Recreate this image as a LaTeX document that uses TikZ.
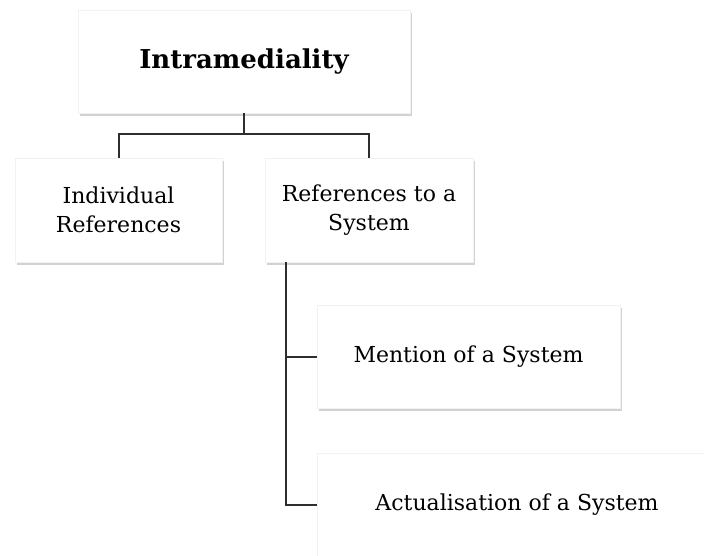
\documentclass[tikz,border=0pt]{standalone}
\usepackage{fontspec}
\setmainfont{DejaVu Serif}
\usetikzlibrary{shadows}
\definecolor{linec}{HTML}{2E2E2E}
\tikzset{
  box/.style={rectangle, fill=white, draw=gray!10, line width=0.6pt, align=center,
    font=\fontsize{22}{29}\selectfont, inner sep=0pt,
    drop shadow={shadow xshift=1.5pt, shadow yshift=-3pt, opacity=0.5, fill=gray!70}},
  conn/.style={draw=linec, line width=2pt}
}
\begin{document}
\begin{tikzpicture}[x=1pt,y=-1pt]
\useasboundingbox (0,0) rectangle (704,556);
\clip (0,0) rectangle (704,556);
\node[box, minimum width=332pt, minimum height=103pt, font=\fontsize{26}{29}\selectfont\bfseries] (intra) at (244,61.5) {Intramediality};
\node[box, minimum width=207pt, minimum height=104pt] (indiv) at (118.5,210) {Individual\\References};
\node[box, minimum width=208pt, minimum height=104pt] (refsys) at (369,210) {References to a\\System};
\node[box, minimum width=303pt, minimum height=103pt] (mention) at (468.5,356.5) {Mention of a System};
\node[box, minimum width=400pt, minimum height=103pt] (actual) at (517,504.5) {Actualisation of a System};
\coordinate (trunk) at ([xshift=21pt]refsys.south west);
\draw[conn] (intra.south) -- ++(0,21) -| (indiv.north);
\draw[conn] (intra.south) -- ++(0,21) -| (refsys.north);
\draw[conn] (trunk) |- (mention.west);
\draw[conn] (trunk) |- (actual.west);
\end{tikzpicture}
\end{document}
